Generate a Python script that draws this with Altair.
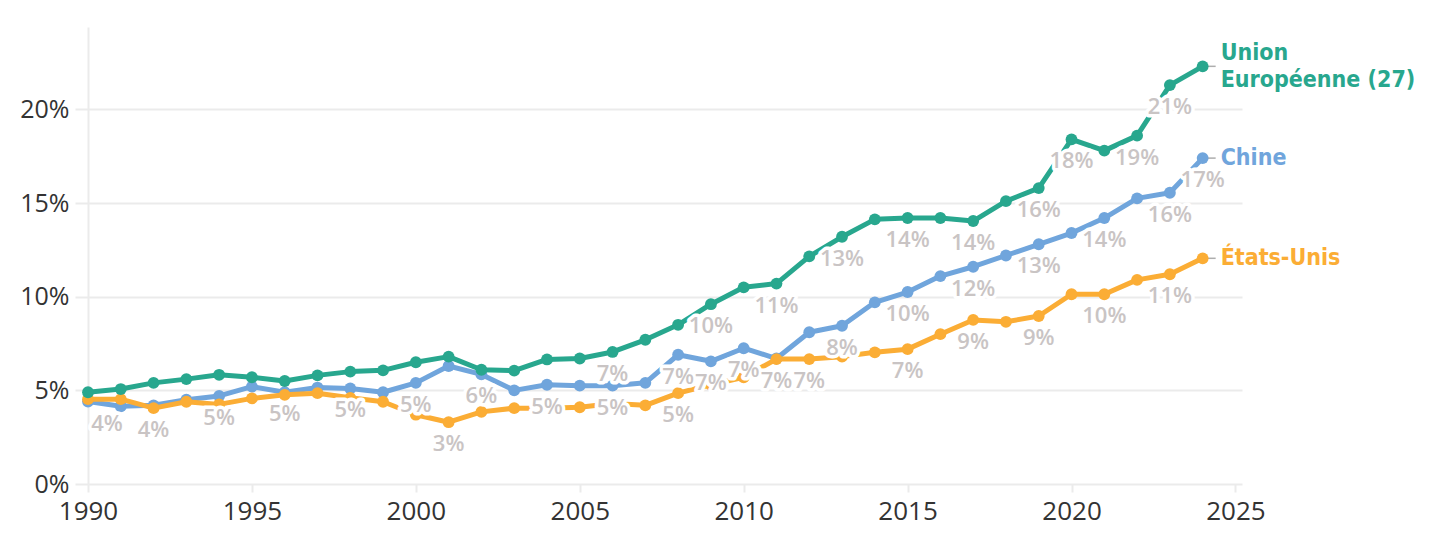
import altair as alt
import pandas as pd

years = list(range(1990, 2025))
eu = [4.9, 5.07, 5.4, 5.6, 5.83, 5.7, 5.5, 5.8, 6.0, 6.07, 6.5, 6.8, 6.1, 6.05, 6.65, 6.7, 7.05, 7.7, 8.5, 9.6,
      10.5, 10.7, 12.15, 13.2, 14.13, 14.2, 14.2, 14.04, 15.1, 15.8, 18.4, 17.8, 18.6, 21.3, 22.3]
china = [4.4, 4.15, 4.2, 4.5, 4.7, 5.2, 4.9, 5.15, 5.1, 4.9, 5.4, 6.3, 5.85, 5.0, 5.3, 5.25, 5.25, 5.4, 6.9, 6.55,
         7.25, 6.7, 8.1, 8.45, 9.7, 10.25, 11.1, 11.6, 12.2, 12.8, 13.4, 14.2, 15.25, 15.55, 17.4]
us = [4.53, 4.53, 4.05, 4.39, 4.25, 4.57, 4.76, 4.85, 4.6, 4.39, 3.7, 3.3, 3.85, 4.05, 4.05, 4.1, 4.3, 4.2, 4.85, 5.3,
      5.7, 6.67, 6.67, 6.8, 7.03, 7.2, 8.0, 8.76, 8.66, 8.97, 10.13, 10.13, 10.9, 11.2, 12.05]

series = ["Chine", "États-Unis", "Union Européenne (27)"]  # drawing order
values = {"Union Européenne (27)": eu, "Chine": china, "États-Unis": us}
end_labels = {"Union Européenne (27)": ["Union", "Européenne (27)"], "Chine": ["Chine"],
              "États-Unis": ["États-Unis"]}
colors = {"Union Européenne (27)": "#28a78e", "Chine": "#70a5dc", "États-Unis": "#fbad35"}

label_years = {
    "Chine": [1990, 1994, 1996, 1998, 2000, 2002, 2004, 2006, 2008, 2009, 2010, 2011,
              2013, 2015, 2017, 2019, 2021, 2023, 2024],
    "États-Unis": [1992, 2001, 2008, 2012, 2015, 2017, 2019, 2021, 2023],
    "Union Européenne (27)": [2006, 2009, 2011, 2013, 2015, 2017, 2019, 2020, 2022, 2023],
}

rows = []
for s in series:
    for y, v in zip(years, values[s]):
        rows.append({"series": s, "year": y, "value": v})
df = pd.DataFrame(rows)

lab_rows = []
for s, ys in label_years.items():
    for y in ys:
        v = values[s][years.index(y)]
        lab_rows.append({"series": s, "year": y, "value": v, "text": f"{int(v + 0.5)}%",
                         "first": y == years[0]})
labels = pd.DataFrame(lab_rows)

end_rows = []
for s in series:
    lines = end_labels[s]
    for i, t in enumerate(lines):
        pos = "single" if len(lines) == 1 else ("top" if i == 0 else "bottom")
        end_rows.append({"series": s, "year": years[-1], "value": values[s][-1], "text": t, "pos": pos})
ends = pd.DataFrame(end_rows)

FONT = "Open Sans"
END_FONT = "DejaVu Sans Condensed"
GRID = "#ebebeb"

x_enc = alt.X("year:Q", scale=alt.Scale(domain=[1990, 2025.2], nice=False, zero=False),
              axis=alt.Axis(values=[1990, 1995, 2000, 2005, 2010, 2015, 2020, 2025], format="d",
                            grid=False, domain=False, ticks=True, tickColor=GRID, tickWidth=2, tickSize=8,
                            labelFontSize=26, labelColor="#333333", labelFont=FONT, labelPadding=6,
                            labelFlush=False, labelOverlap=False, title=None))
y_enc = alt.Y("value:Q", scale=alt.Scale(domain=[0, 24.4], nice=False),
              axis=alt.Axis(values=[0, 5, 10, 15, 20], labelExpr="datum.value + '%'", grid=True,
                            gridColor=GRID, gridWidth=2, domain=True, domainColor=GRID, domainWidth=2,
                            tickColor=GRID, tickWidth=2, tickSize=13, labelFontSize=25,
                            labelColor="#333333", labelFont=FONT, labelPadding=6, title=None))
color_enc = alt.Color("series:N", scale=alt.Scale(domain=list(colors.keys()), range=list(colors.values())),
                      legend=None)

base = alt.Chart(df).encode(x=x_enc, y=y_enc)

connectors = alt.Chart(ends).transform_filter(alt.datum.pos != "bottom").mark_tick(
    orient="horizontal", size=8, thickness=1.5, color="#8a8a8a", xOffset=9).encode(x="year:Q", y="value:Q")

layers = [connectors]
for s in series:
    sub = base.transform_filter(alt.datum.series == s)
    layers.append(sub.mark_line(strokeWidth=5, color=colors[s], strokeJoin="round"))
    layers.append(sub.mark_circle(size=140, opacity=1, color=colors[s]))

lab = alt.Chart(labels).encode(x="year:Q", y="value:Q", text="text:N")
common = dict(fontSize=22, font=FONT, fontWeight=600, dy=22, baseline="middle", align="center")
for first, dx in [(False, 0), (True, 19)]:
    sub = lab.transform_filter(alt.datum.first == first)
    layers.append(sub.mark_text(stroke="white", strokeWidth=7, strokeJoin="round", color="white",
                                dx=dx, **common))
    layers.append(sub.mark_text(color="#c9c4c4", dx=dx, **common))

end_common = dict(align="left", baseline="middle", dx=18, fontSize=23, font=END_FONT, fontWeight="bold")
end_base = alt.Chart(ends).encode(x="year:Q", y="value:Q", text="text:N", color=color_enc)
for pos, dy in [("single", 0), ("top", -13.5), ("bottom", 13.5)]:
    layers.append(end_base.transform_filter(alt.datum.pos == pos).mark_text(dy=dy, **end_common))

chart = alt.layer(*layers).properties(
    width=1154, height=457,
    padding={"left": 80, "top": 19, "right": 206, "bottom": 50},
    autosize=alt.AutoSizeParams(type="none"),
).configure_view(stroke=None)

chart.save("out.html", embed_options={"renderer": "svg", "actions": False})
